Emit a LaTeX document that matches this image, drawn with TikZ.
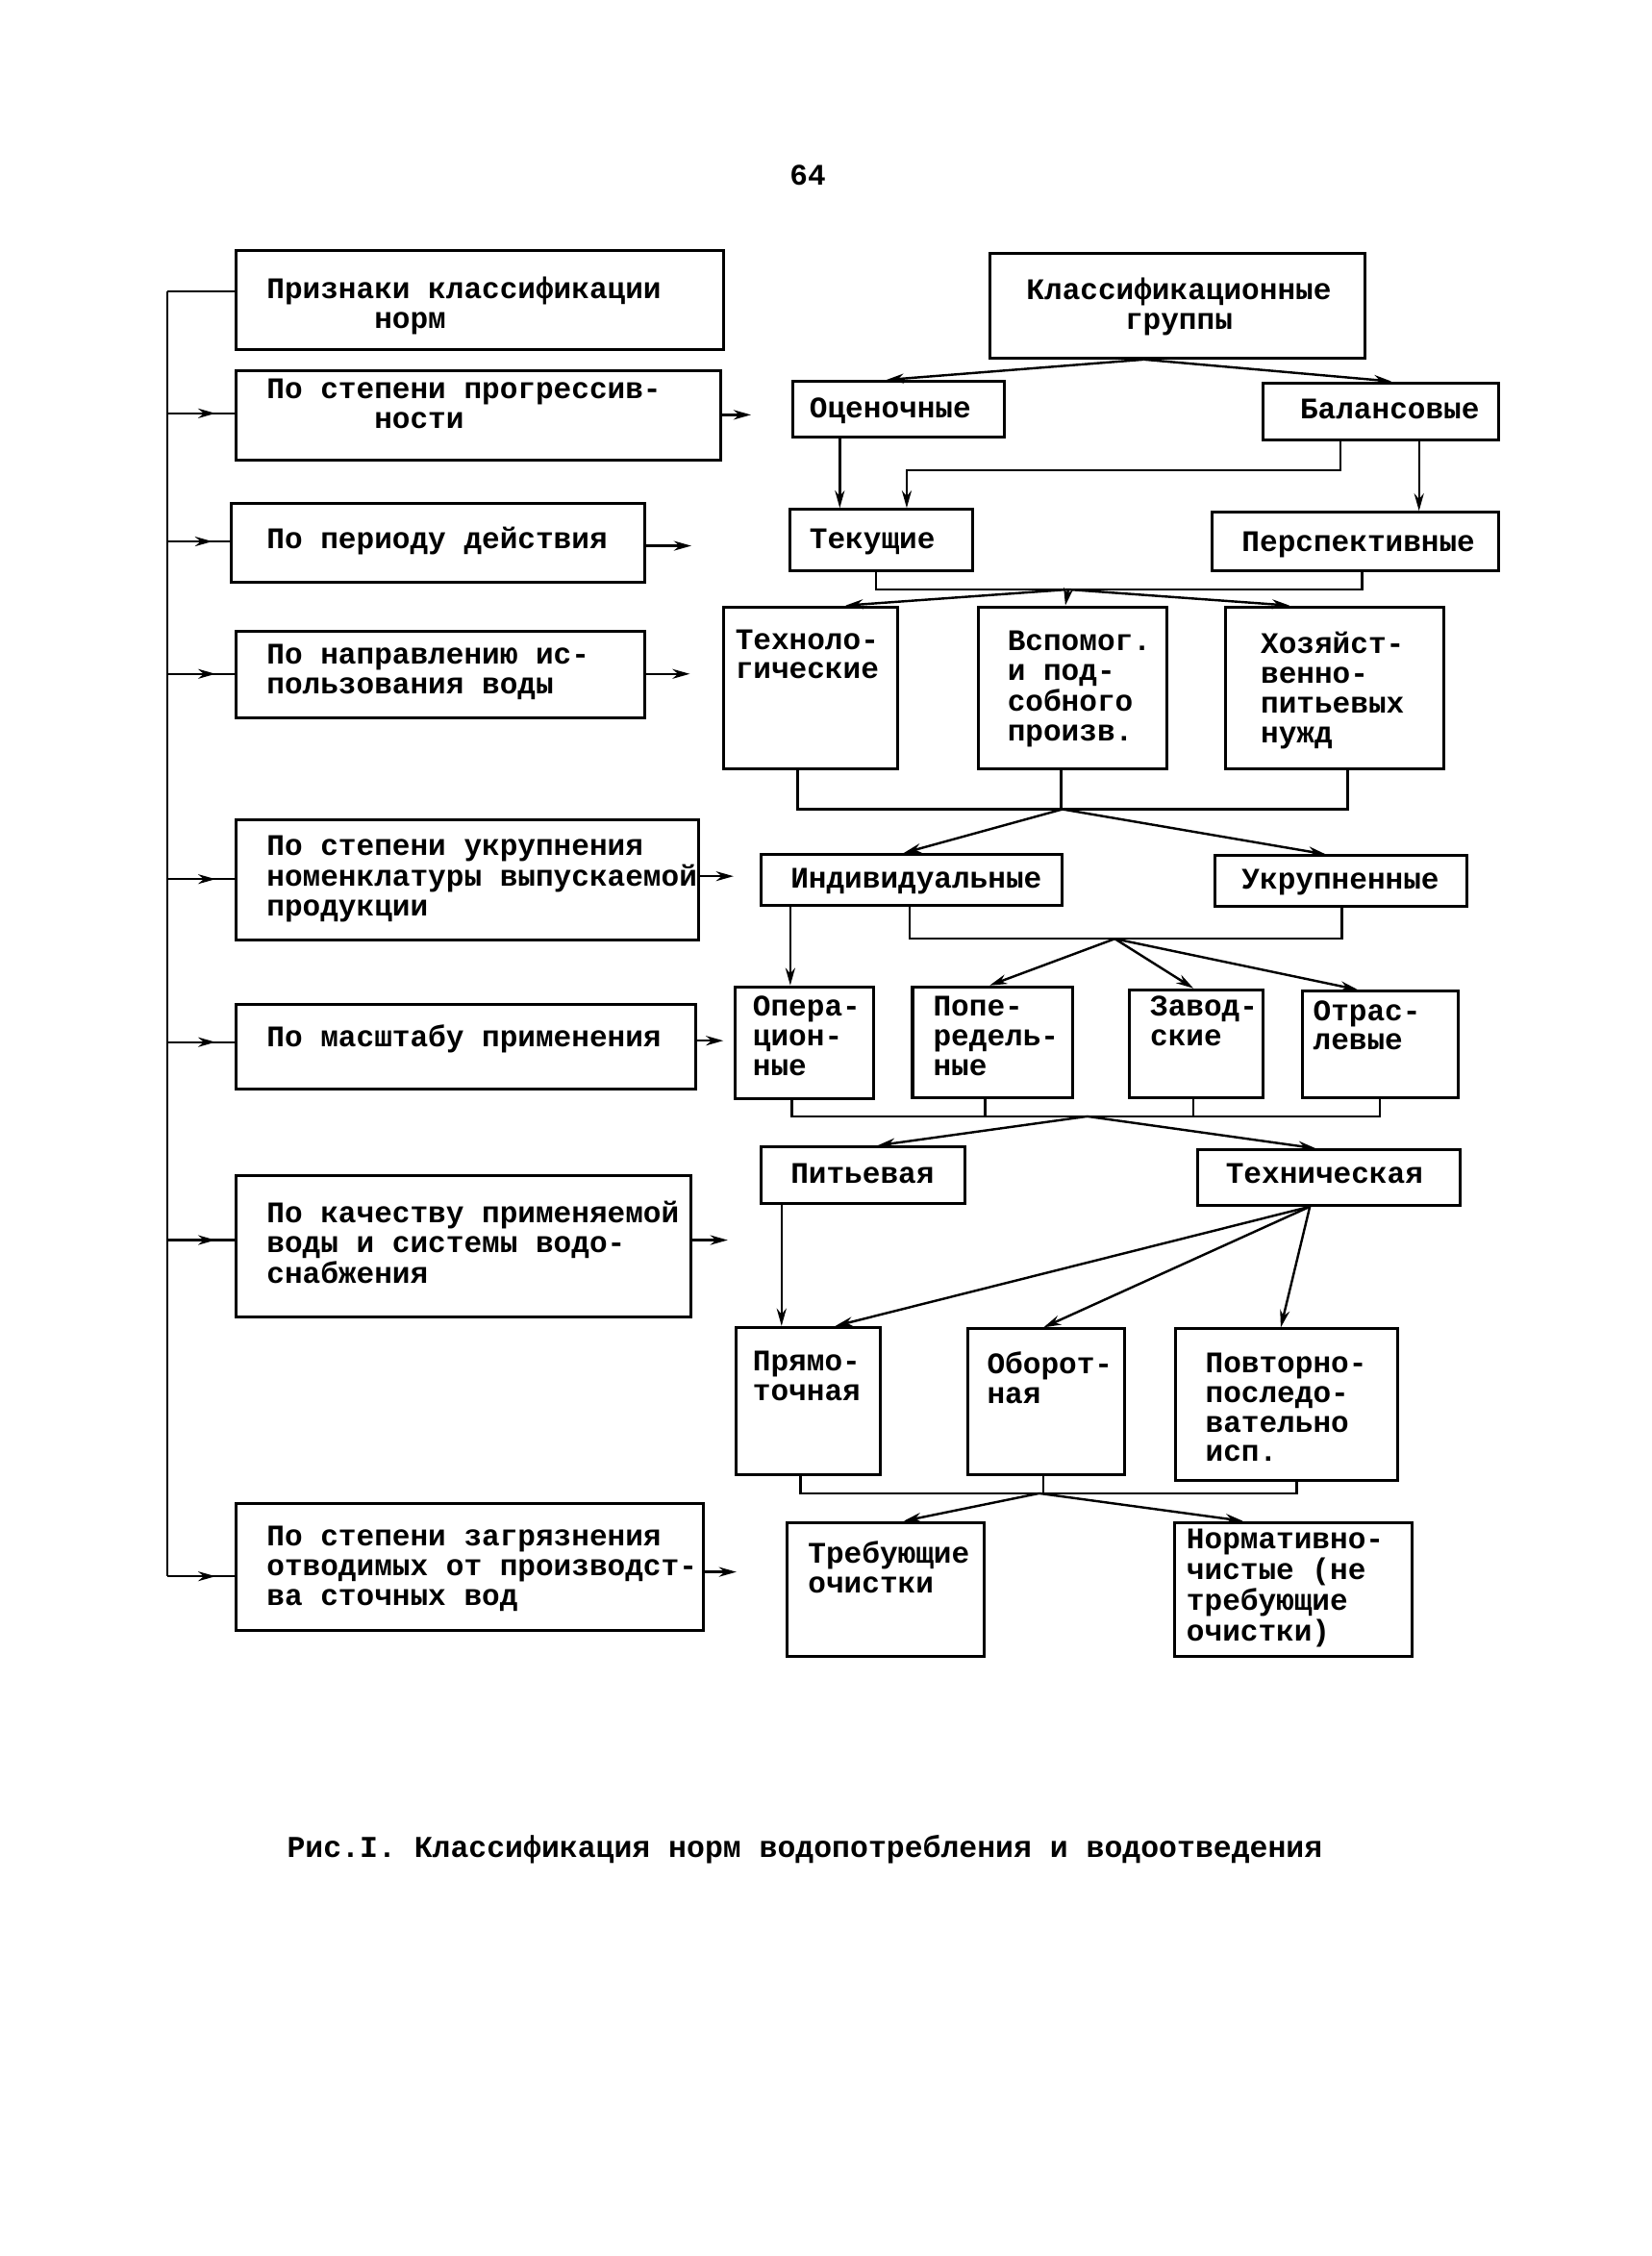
\documentclass[tikz,border=0pt]{standalone}
\usepackage{fontspec}
\setmainfont{Liberation Mono}
\usetikzlibrary{arrows.meta,fit,calc,decorations.markings}
\newcommand\bx[5]{\node[boxst, fit={(#2,#3) (#4,#5)}] (#1) {};}
\newcommand\tl[1]{\begin{tabular}[t]{@{}l@{}}#1\end{tabular}}
\newcommand\tc[1]{\begin{tabular}[t]{@{}c@{}}#1\end{tabular}}
\begin{document}
\begin{tikzpicture}[x=0.75pt,y=-0.75pt,
  boxst/.style={draw, line width=1.5pt, inner sep=0pt},
  txtst/.style={font=\fontsize{15.4pt}{15.3pt}\selectfont\bfseries, inner sep=0pt, anchor=base west},
  ln/.style={line width=1.2pt},
  arr/.style={line width=1.2pt, -{Stealth[length=9pt,width=5pt]}},
  midarr/.style={line width=1.2pt, postaction={decorate}, decoration={markings, mark=at position 0.72 with {\arrow{Stealth[length=9pt,width=5pt]}}}}]
\useasboundingbox (0,0) rectangle (1135,1550);

% page number
\node[txtst, anchor=base] (pg) at (555,127) {64};

% left column
\bx{A}{162}{172}{497}{240}
\node[txtst] (At) at (183,205) {\tl{Признаки классификации\\\hspace*{3.6em}норм}};
\bx{B}{162}{255}{495}{316}
\node[txtst] (Bt) at (183,274) {\tl{По степени прогрессив-\\\hspace*{3.6em}ности}};
\bx{C}{159}{346}{443}{400}
\node[txtst] (Ct) at (183,377) {По периоду действия};
\bx{D}{162}{434}{443}{493}
\node[txtst] (Dt) at (183,456) {\tl{По направлению ис-\\пользования воды}};
\bx{E}{162}{563}{480}{646}
\node[txtst] (Et) at (183,588) {\tl{По степени укрупнения\\номенклатуры выпускаемой\\продукции}};
\bx{F}{162}{690}{478}{748}
\node[txtst] (Ft) at (183,719) {По масштабу применения};
\bx{G}{162}{808}{475}{905}
\node[txtst] (Gt) at (183,840) {\tl{По качеству применяемой\\воды и системы водо-\\снабжения}};
\bx{H}{162}{1033}{483}{1120}
\node[txtst] (Ht) at (183,1062) {\tl{По степени загрязнения\\отводимых от производст-\\ва сточных вод}};

% right column
\bx{K}{680}{174}{938}{246}
\node[txtst, anchor=base] (Kt) at (810,206) {\tc{Классификационные\\группы}};
\bx{O}{545}{262}{690}{300}
\node[txtst] (Ot) at (556,287) {Оценочные};
\bx{Bal}{868}{263}{1030}{302}
\node[txtst] (Balt) at (893,288) {Балансовые};
\bx{Tek}{543}{350}{668}{392}
\node[txtst] (Tekt) at (556,377) {Текущие};
\bx{Persp}{833}{352}{1030}{392}
\node[txtst] (Perspt) at (853,379) {Перспективные};
\bx{Techn}{497}{417}{617}{528}
\node[txtst] (Techt) at (505,446) {\tl{Техноло-\\гические}};
\bx{Vspom}{672}{417}{802}{528}
\node[txtst] (Vspomt) at (692,447) {\tl{Вспомог.\\и под-\\собного\\произв.}};
\bx{Hoz}{842}{417}{992}{528}
\node[txtst] (Hozt) at (866,449) {\tl{Хозяйст-\\венно-\\питьевых\\нужд}};
\bx{Ind}{523}{587}{730}{622}
\node[txtst] (Indt) at (543,610) {Индивидуальные};
\bx{Ukr}{835}{588}{1008}{623}
\node[txtst] (Ukrt) at (853,611) {Укрупненные};
\bx{Oper}{505}{678}{600}{755}
\node[txtst] (Opert) at (517,698) {\tl{Опера-\\цион-\\ные}};
\bx{Pope}{627}{678}{737}{754}
\node[txtst] (Popet) at (641,698) {\tl{Попе-\\редель-\\ные}};
\bx{Zavod}{776}{680}{868}{754}
\node[txtst] (Zavodt) at (790,698) {\tl{Завод-\\ские}};
\bx{Otras}{895}{681}{1002}{754}
\node[txtst] (Otrast) at (902,701) {\tl{Отрас-\\левые}};
\bx{Pit}{523}{788}{663}{827}
\node[txtst] (Pitt) at (543,813) {Питьевая};
\bx{Tech}{823}{790}{1003}{828}
\node[txtst] (Techt2) at (842,813) {Техническая};
\bx{Pryam}{506}{912}{605}{1013}
\node[txtst] (Pryamt) at (517,942) {\tl{Прямо-\\точная}};
\bx{Ob}{665}{913}{773}{1013}
\node[txtst] (Obt) at (678,944) {\tl{Оборот-\\ная}};
\bx{Povt}{808}{913}{960}{1017}
\node[txtst] (Povtt) at (828,943) {\tl{Повторно-\\последо-\\вательно\\исп.}};
\bx{Treb}{541}{1046}{676}{1138}
\node[txtst] (Trebt) at (555,1074) {\tl{Требующие\\очистки}};
\bx{Norm}{807}{1046}{970}{1138}
\node[txtst] (Normt) at (815,1064) {\tl{Нормативно-\\чистые (не\\требующие\\очистки)}};

% caption
\node[txtst, font=\fontsize{15.6pt}{15.6pt}\selectfont\bfseries] (cap) at (197,1276) {Рис.I. Классификация норм водопотребления и водоотведения};

% spine
\coordinate (s0) at (115,200);
\coordinate (sH) at (115,1083);
\draw[ln] (s0) -- (sH);
\draw[ln] (s0) -- (s0 -| A.west);
\foreach \n/\y in {B/284, C/372, D/463, E/604, F/716, G/852} {
  \coordinate (s\n) at (115,\y);
  \draw[midarr] (s\n) -- (s\n -| \n.west);
}
\draw[midarr] (sH) -- (sH -| H.west);

% free arrows to the right
\foreach \n/\y/\x in {B/285/516, C/375/475, D/463/474, E/602/504, F/715/497, G/852/500, H/1080/506} {
  \coordinate (r\n) at (\x,\y);
  \draw[arr] (r\n -| \n.east) -- (r\n);
}

% right column connectors
\coordinate (ko) at ($(K.south west)+(107,0)$);
\draw[arr] (ko) -- ($(O.north west)+(65,0)$);
\draw[arr] (ko) -- ($(Bal.north west)+(89,0)$);
\draw[arr] ($(O.south west)+(33,0)$) -- ($(Tek.north west)+(35,0)$);
\draw[arr] ($(Bal.south west)+(54,0)$) -- ++(0,20) -| ($(Tek.north west)+(81,0)$);
\draw[arr] ($(Bal.south west)+(108,0)$) -- ($(Persp.north west)+(143,0)$);

\coordinate (j1) at (734,405);
\draw[ln] ($(Tek.south west)+(60,0)$) |- (j1) -| ($(Persp.south west)+(104,0)$);
\draw[arr] (j1) -- ($(Techn.north west)+(85,0)$);
\draw[arr] (j1) -- ($(Vspom.north west)+(61,0)$);
\draw[arr] (j1) -- ($(Hoz.north west)+(45,0)$);

\coordinate (j2) at (730,556);
\draw[ln] ($(Techn.south west)+(52,0)$) |- (j2) -| ($(Hoz.south west)+(85,0)$);
\draw[ln] ($(Vspom.south west)+(58,0)$) |- (j2);
\draw[arr] (j2) -- ($(Ind.north west)+(99,0)$);
\draw[arr] (j2) -- ($(Ukr.north west)+(77,0)$);

\draw[arr] ($(Ind.south west)+(21,0)$) -- ($(Oper.north west)+(39,0)$);
\coordinate (j3) at (766,645);
\draw[ln] ($(Ind.south west)+(103,0)$) |- (j3) -| ($(Ukr.south west)+(88,0)$);
\draw[arr] (j3) -- ($(Pope.north west)+(54,0)$);
\draw[arr] (j3) -- ($(Zavod.north west)+(45,0)$);
\draw[arr] (j3) -- ($(Otras.north west)+(39,0)$);

\coordinate (j4) at (747,767);
\draw[ln] ($(Oper.south west)+(40,0)$) |- (j4) -| ($(Otras.south west)+(54,0)$);
\draw[ln] ($(Pope.south west)+(51,0)$) |- (j4);
\draw[ln] ($(Zavod.south west)+(45,0)$) |- (j4);
\draw[arr] (j4) -- ($(Pit.north west)+(81,0)$);
\draw[arr] (j4) -- ($(Tech.north west)+(82,0)$);

\draw[arr] ($(Pit.south west)+(15,0)$) -- ($(Pryam.north west)+(32,0)$);
\coordinate (tb) at ($(Tech.south west)+(78,0)$);
\draw[arr] (tb) -- ($(Pryam.north west)+(69,0)$);
\draw[arr] (tb) -- ($(Ob.north west)+(53,0)$);
\draw[arr] (tb) -- ($(Povt.north west)+(73,0)$);

\coordinate (j5) at (714,1026);
\draw[ln] ($(Pryam.south west)+(45,0)$) |- (j5) -| ($(Povt.south west)+(84,0)$);
\draw[ln] ($(Ob.south west)+(53,0)$) |- (j5);
\draw[arr] (j5) -- ($(Treb.north west)+(81,0)$);
\draw[arr] (j5) -- ($(Norm.north west)+(48,0)$);
\end{tikzpicture}
\end{document}
